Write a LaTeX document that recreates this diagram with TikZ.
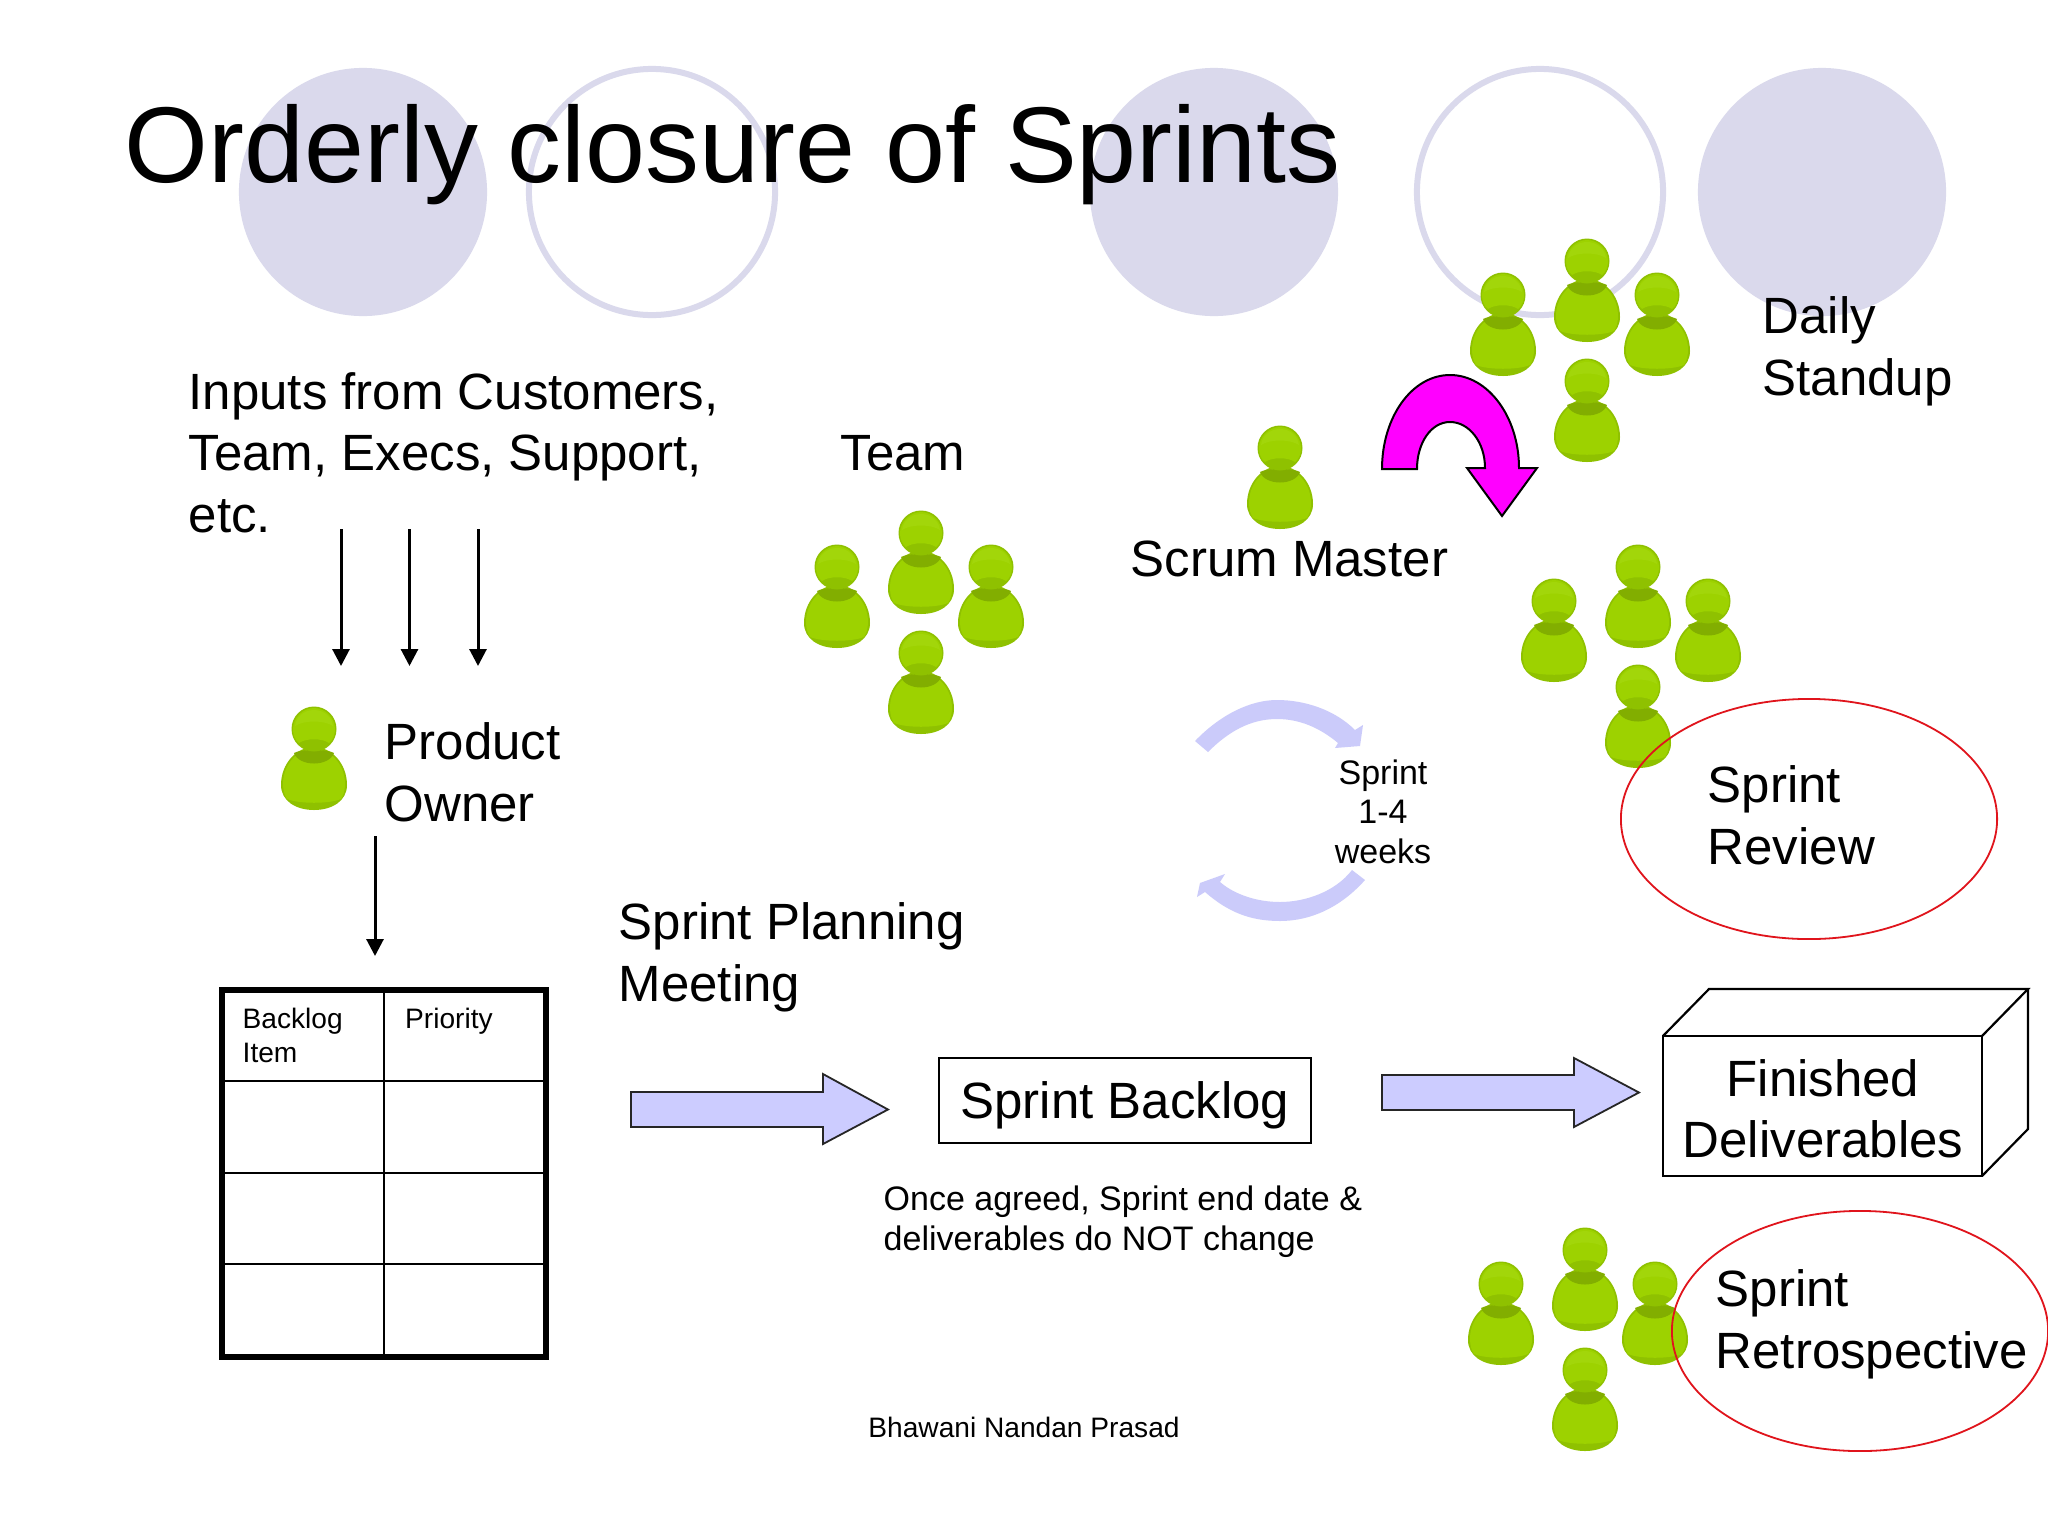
\documentclass[tikz,border=0pt]{standalone}
\usepackage{fontspec}
\setmainfont{Liberation Sans}
\usetikzlibrary{arrows.meta,shapes.geometric}
\definecolor{deco}{HTML}{DAD9EC}
\definecolor{blockfill}{HTML}{CCCCFF}
\definecolor{loopfill}{HTML}{CBCBFA}
\definecolor{pgreen}{HTML}{9DD200}
\definecolor{pedge}{HTML}{8FC100}
\definecolor{pdark}{HTML}{82AE00}
\definecolor{plight}{HTML}{A2D60A}
\definecolor{ringred}{HTML}{E0141C}
\definecolor{curl}{HTML}{FF00FF}
\tikzset{
  x=0.01cm,y=-0.01cm,
  dot/.style={circle,fill=deco,draw=none,minimum size=2.48cm,inner sep=0pt},
  ring/.style={circle,draw=deco,line width=0.06cm,fill=none,minimum size=2.46cm,inner sep=0pt},
  body/.style={font=\fontsize{14.5}{17.4}\selectfont,align=left,anchor=base west,inner sep=0pt},
  small/.style={font=\fontsize{9.67}{11.2}\selectfont,inner sep=0pt},
  tiny/.style={font=\fontsize{8}{9.6}\selectfont,inner sep=0pt},
  flow/.style={-{Triangle[length=0.17cm,width=0.17cm]},line width=0.03cm,black},
  block/.style={fill=blockfill,draw=black!85,line width=0.018cm},
  oval/.style={ellipse,draw=ringred,line width=0.018cm,fill=none,minimum width=3.76cm,minimum height=2.4cm,inner sep=0pt},
  person/.pic={
    \path[fill=pedge] (0,18) .. controls (18,18) and (33,35) .. (33,56) .. controls (33,72) and (18,81) .. (0,81) .. controls (-18,81) and (-33,72) .. (-33,56) .. controls (-33,35) and (-18,18) .. (0,18) -- cycle;
    \path[fill=pgreen] (0,20) .. controls (17,20) and (31,36) .. (31,55) .. controls (31,62) and (29,67) .. (27,70) .. controls (15,75) and (-15,75) .. (-27,70) .. controls (-29,67) and (-31,62) .. (-31,55) .. controls (-31,36) and (-17,20) .. (0,20) -- cycle;
    \path[fill=pdark] (-20,24) .. controls (-14,20) and (14,20) .. (20,24) .. controls (15,38) and (-15,38) .. (-20,24) -- cycle;
    \path[fill=pedge] circle[radius=22.5];
    \path[fill=pgreen] (0,-21) .. controls (11,-21) and (21,-11) .. (21,0) .. controls (21,6) and (19,11) .. (15,14) .. controls (8,9) and (-8,9) .. (-15,14) .. controls (-19,11) and (-21,6) .. (-21,0) .. controls (-21,-11) and (-11,-21) .. (0,-21) -- cycle;
    \path[fill=plight] (0,-19) .. controls (10,-19) and (18,-12) .. (19,-3) .. controls (10,-9) and (-10,-9) .. (-19,-3) .. controls (-18,-12) and (-10,-19) .. (0,-19) -- cycle;
  },
  team/.pic={
    \pic at (-84,34) {person};
    \pic at (0,0) {person};
    \pic at (70,34) {person};
    \pic at (0,120) {person};
  }
}
\begin{document}
\begin{tikzpicture}
\useasboundingbox (0,0) rectangle (2048,1536);
\fill[white] (0,0) rectangle (2048,1536);

% decorative circles
\node[dot]  (c1) at (363,192) {};
\node[ring] (c2) at (652,192) {};
\node[dot]  (c3) at (1214,192) {};
\node[ring] (c4) at (1540,192) {};
\node[dot]  (c5) at (1822,192) {};

% title
\node[font=\fontsize{30.65}{36}\selectfont,anchor=base west,inner sep=0pt] (title) at (124,182) {Orderly closure of Sprints};

% people
\pic at (1587,261) {team};
\pic at (921,533) {team};
\pic at (1638,567) {team};
\pic at (1585,1250) {team};
\pic at (1280,448) {person};
\pic at (314,729) {person};

% labels
\node[body] (inputs) at (188,532) {Inputs from Customers,\\Team, Execs, Support,\\etc.};
\node[body] (teamlbl) at (840,470) {Team};
\node[body] (scrum) at (1130,576) {Scrum Master};
\node[body] (daily) at (1762,395) {Daily\\Standup};
\node[body] (po) at (384,821) {Product\\Owner};
\node[body] (planning) at (618,1001) {Sprint Planning\\Meeting};
\node[body] (review) at (1707,864) {Sprint\\Review};
\node[body] (retro) at (1715,1368) {Sprint\\Retrospective};

% ovals
\node[oval] (ovalrev) at (1809,819) {};
\node[oval] (ovalret) at (1860,1331) {};

% down arrows
\coordinate (i1) at (341,529); \coordinate (i1e) at (341,666);
\coordinate (i2) at (409.5,529); \coordinate (i2e) at (409.5,666);
\coordinate (i3) at (478,529); \coordinate (i3e) at (478,666);
\coordinate (p1) at (375,836); \coordinate (p1e) at (375,956);
\draw[flow] (i1) -- (i1e);
\draw[flow] (i2) -- (i2e);
\draw[flow] (i3) -- (i3e);
\draw[flow] (p1) -- (p1e);

% backlog table
\draw[line width=0.028cm] (384,990) -- (384,1357);
\draw[line width=0.028cm] (222,1081) -- (546,1081);
\draw[line width=0.028cm] (222,1173) -- (546,1173);
\draw[line width=0.028cm] (222,1264) -- (546,1264);
\draw[line width=0.055cm] (222,990) rectangle (546,1357);
\node[tiny,align=left,anchor=base west] (tb1) at (242,1062) {Backlog\\Item};
\node[tiny,anchor=base west] (tb2) at (404.5,1028) {Priority};

% block arrows
\draw[block] (631,1092) -- (823,1092) -- (823,1074) -- (888,1109.5) -- (823,1144) -- (823,1127) -- (631,1127) -- cycle;
\draw[block] (1382,1075) -- (1574,1075) -- (1574,1058) -- (1639,1092.5) -- (1574,1127) -- (1574,1110) -- (1382,1110) -- cycle;

% sprint backlog
\node[draw=black,line width=0.02cm,minimum width=3.72cm,minimum height=0.85cm,inner sep=0pt,text height=10.5pt,text depth=0pt,font=\fontsize{14.5}{17.4}\selectfont] (backlog) at (1125,1100.5) {Sprint Backlog};

% finished box
\draw[line width=0.022cm,fill=white] (1663,1036) rectangle (1982,1176);
\draw[line width=0.022cm] (1663,1036) -- (1709,989) -- (2028,989) -- (1982,1036);
\draw[line width=0.022cm] (2028,989) -- (2028,1129) -- (1982,1176);
\node[font=\fontsize{14.5}{17.4}\selectfont,align=center,inner sep=0pt] (finished) at (1823,1108.5) {Finished\\Deliverables};

% notes
\node[small,align=left,anchor=base west] (note) at (883,1250) {Once agreed, Sprint end date \&\\deliverables do NOT change};
\node[tiny,anchor=base] (footer) at (1024,1437) {Bhawani Nandan Prasad};

% sprint loop
\fill[loopfill] (1195,741) .. controls (1220,715) and (1250,700) .. (1277,700) .. controls (1305,700) and (1335,710) .. (1355,730) -- (1363,725) -- (1360,746) -- (1335,748) -- (1338,743) .. controls (1320,728) and (1300,719) .. (1277,719) .. controls (1250,719) and (1228,732) .. (1208,752) -- cycle;
\fill[loopfill] (1365,880) .. controls (1340,908) and (1310,921) .. (1280,921) .. controls (1250,921) and (1228,912) .. (1205,892) -- (1197,897) -- (1200,883) -- (1225,874) -- (1220,882) .. controls (1235,895) and (1258,902) .. (1280,902) .. controls (1305,902) and (1335,892) .. (1352,870) -- cycle;
\node[small,align=center,anchor=base] (loop) at (1383,863) {Sprint\\1-4\\weeks};

% magenta curved arrow
\draw[fill=curl,draw=black,line width=0.02cm,line join=miter] (1382,469) .. controls (1382,417) and (1412,375) .. (1450,375) .. controls (1488,375) and (1519,417) .. (1519,468) -- (1537,468) -- (1502,516) -- (1467,468) -- (1485,468) .. controls (1485,442) and (1469,422) .. (1450,422) .. controls (1431,422) and (1417,443) .. (1417,469) -- cycle;
\end{tikzpicture}
\end{document}
